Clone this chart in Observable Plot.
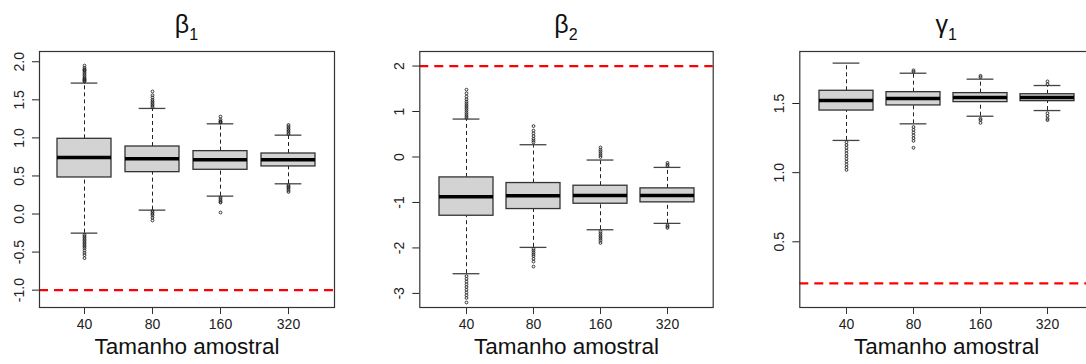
<!DOCTYPE html>
<html><head><meta charset="utf-8">
<script src="https://cdn.jsdelivr.net/npm/d3@7"></script>
<script src="https://cdn.jsdelivr.net/npm/@observablehq/plot@0.6"></script>
<style>
html,body{margin:0;padding:0;background:#fff;overflow:hidden}
#wrap{position:relative;width:1086px;height:364px;overflow:hidden;font-family:"Liberation Sans",Arial,sans-serif}
.panel{position:absolute;top:0}
.panel svg{max-width:none !important}
.title{position:absolute;top:12px;font-size:25px;color:#111;transform:translateX(-50%);white-space:nowrap;line-height:1;font-family:"Liberation Sans",Arial,sans-serif}
.title sub{font-size:16px;vertical-align:-7px;line-height:0}
</style></head><body><div id="wrap"></div>
<script>
// categories
const sizes = ["40", "80", "160", "320"];
const xLabel = "Tamanho amostral";

// beta1
const beta1Q1 = [0.48, 0.55, 0.581, 0.625];
const beta1Median = [0.743, 0.725, 0.712, 0.712];
const beta1Q3 = [0.988, 0.887, 0.826, 0.795];
const beta1WhiskerLow = [-0.251, 0.051, 0.235, 0.397];
const beta1WhiskerHigh = [1.72, 1.387, 1.185, 1.036];
const beta1Outliers = [
  [1.74, 1.75, 1.76, 1.77, 1.78, 1.80, 1.82, 1.84, 1.86, 1.88, 1.89, 1.90, 1.92, 1.95,
   -0.27, -0.29, -0.31, -0.33, -0.35, -0.37, -0.39, -0.41, -0.43, -0.45, -0.48, -0.51, -0.54, -0.58],
  [1.40, 1.42, 1.44, 1.46, 1.48, 1.50, 1.53, 1.56, 1.61, 0.04, 0.02, 0.0, -0.02, -0.05, -0.085],
  [1.20, 1.21, 1.22, 1.24, 1.28, 0.22, 0.20, 0.18, 0.16, 0.15, 0.02],
  [1.05, 1.07, 1.09, 1.11, 1.13, 1.15, 1.17, 0.38, 0.36, 0.35, 0.33, 0.31, 0.29]
];
const beta1True = -1;
const beta1Ticks = [-1, -0.5, 0, 0.5, 1, 1.5, 2];

// beta2
const beta2Q1 = [-1.292, -1.145, -1.028, -0.998];
const beta2Median = [-0.874, -0.852, -0.845, -0.845];
const beta2Q3 = [-0.449, -0.573, -0.632, -0.69];
const beta2WhiskerLow = [-2.567, -1.988, -1.6, -1.46];
const beta2WhiskerHigh = [0.834, 0.27, -0.067, -0.229];
const beta2Outliers = [
  [0.86, 0.90, 0.94, 0.98, 1.02, 1.06, 1.10, 1.14, 1.18, 1.22, 1.27, 1.33, 1.40, 1.48,
   -2.62, -2.68, -2.74, -2.80, -2.86, -2.92, -2.98, -3.04, -3.10, -3.20],
  [0.32, 0.36, 0.40, 0.46, 0.52, 0.58, 0.68, -2.02, -2.06, -2.10, -2.14, -2.18, -2.24, -2.30, -2.41],
  [0.0, 0.04, 0.08, 0.12, 0.16, 0.21, -1.64, -1.68, -1.72, -1.76, -1.80, -1.84, -1.89],
  [-0.20, -0.17, -0.13, -1.50, -1.53, -1.56]
];
const beta2True = 2;
const beta2Ticks = [-3, -2, -1, 0, 1, 2];

// gamma1
const gamma1Q1 = [1.449, 1.486, 1.51, 1.517];
const gamma1Median = [1.522, 1.536, 1.543, 1.543];
const gamma1Q3 = [1.592, 1.582, 1.575, 1.567];
const gamma1WhiskerLow = [1.233, 1.353, 1.408, 1.449];
const gamma1WhiskerHigh = [1.792, 1.719, 1.676, 1.63];
const gamma1Outliers = [
  [1.22, 1.20, 1.18, 1.16, 1.14, 1.12, 1.10, 1.08, 1.06, 1.04, 1.02],
  [1.73, 1.74, 1.33, 1.31, 1.29, 1.27, 1.25, 1.23, 1.18],
  [1.69, 1.70, 1.39, 1.38, 1.36],
  [1.64, 1.66, 1.43, 1.41, 1.39, 1.38]
];
const gamma1True = 0.2;
const gamma1Ticks = [0.5, 1, 1.5];

const fmt1 = v => v.toFixed(1);
const fmt0 = v => String(v);

function makePanel(c) {
  const rows = sizes.map((s, i) => ({size: s, q1: c.q1[i], med: c.med[i], q3: c.q3[i], lo: c.lo[i], hi: c.hi[i]}));
  const outs = sizes.flatMap((s, i) => c.outliers[i].map(v => ({size: s, v})));
  const plotW = c.width - c.ml - c.mr;
  const step = plotW / 4.32;
  const capInset = 0.2 * step;
  return Plot.plot({
    width: c.width, height: 364,
    marginLeft: c.ml, marginRight: c.mr, marginTop: 51, marginBottom: 57,
    style: {fontFamily: '"Liberation Sans", Arial, sans-serif', fontSize: "14px", color: "#222", background: "transparent", overflow: "visible", maxWidth: "none"},
    x: {type: "band", domain: sizes, paddingInner: 0.2, paddingOuter: 0.26, label: null},
    y: {domain: c.domain, label: null},
    marks: [
      Plot.ruleY([c.truth], {stroke: "#ff0000", strokeWidth: 2.2, strokeDasharray: "9,6"}),
      Plot.ruleX(rows, {x: "size", y1: "q3", y2: "hi", stroke: "#222", strokeWidth: 1, strokeDasharray: "4,3"}),
      Plot.ruleX(rows, {x: "size", y1: "lo", y2: "q1", stroke: "#222", strokeWidth: 1, strokeDasharray: "4,3"}),
      Plot.barY(rows, {x: "size", y1: "q1", y2: "q3", fill: "#d3d3d3", stroke: "#333", strokeWidth: 1.3}),
      Plot.tickY(rows, {x: "size", y: "med", stroke: "#000", strokeWidth: 3.5}),
      Plot.tickY(rows, {x: "size", y: "hi", stroke: "#444", strokeWidth: 1.3, inset: capInset}),
      Plot.tickY(rows, {x: "size", y: "lo", stroke: "#444", strokeWidth: 1.3, inset: capInset}),
      Plot.dot(outs, {x: "size", y: "v", r: 1.4, stroke: "#222", strokeWidth: 0.9, fill: "none"}),
      Plot.frame({stroke: "#333", strokeWidth: 1.2}),
      Plot.axisX({tickSize: 7, tickPadding: 5, fontSize: 14, label: null, stroke: "#333"}),
      Plot.axisY(c.ticks, {tickSize: 7, tickPadding: 9, tickRotate: -90, tickFormat: c.fmt, fontSize: 14, label: null}),
      Plot.text([xLabel], {frameAnchor: "bottom", dy: 46.5, fontSize: 22.5, fill: "#111"})
    ]
  });
}

const panels = [
  {left: 0, width: 362, ml: 39, mr: 28, domain: [-1.228, 2.135], q1: beta1Q1, med: beta1Median, q3: beta1Q3, lo: beta1WhiskerLow, hi: beta1WhiskerHigh, outliers: beta1Outliers, truth: beta1True, ticks: beta1Ticks, fmt: fmt1, sym: "β", sub: "1"},
  {left: 362, width: 362, ml: 57.3, mr: 11.3, domain: [-3.31, 2.32], q1: beta2Q1, med: beta2Median, q3: beta2Q3, lo: beta2WhiskerLow, hi: beta2WhiskerHigh, outliers: beta2Outliers, truth: beta2True, ticks: beta2Ticks, fmt: fmt0, sym: "β", sub: "2"},
  {left: 724, width: 380, ml: 75.3, mr: 11, domain: [0.025, 1.876], q1: gamma1Q1, med: gamma1Median, q3: gamma1Q3, lo: gamma1WhiskerLow, hi: gamma1WhiskerHigh, outliers: gamma1Outliers, truth: gamma1True, ticks: gamma1Ticks, fmt: fmt1, sym: "γ", sub: "1"}
];

const wrap = document.getElementById("wrap");
for (const p of panels) {
  const svg = makePanel(p);
  const div = document.createElement("div");
  div.className = "panel";
  div.style.left = p.left + "px";
  div.style.width = p.width + "px";
  div.appendChild(svg);
  wrap.appendChild(div);
  const t = document.createElement("div");
  t.className = "title";
  const cx = p.left + p.ml + (p.width - p.ml - p.mr) / 2;
  t.style.left = cx + "px";
  t.innerHTML = p.sym + "<sub>" + p.sub + "</sub>";
  wrap.appendChild(t);
}
</script></body></html>
